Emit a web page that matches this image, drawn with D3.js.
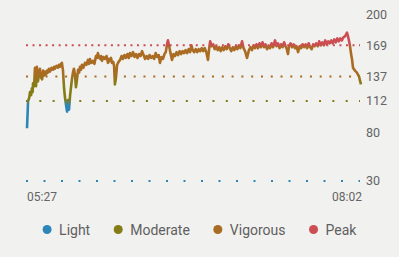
<!DOCTYPE html>
<html>
<head>
<meta charset="utf-8">
<script src="https://cdn.jsdelivr.net/npm/d3@7"></script>
<style>
  html, body { margin: 0; padding: 0; background: #f1f1ef; }
  svg { display: block; font-family: Roboto, "Noto Sans", sans-serif; }
</style>
</head>
<body>
<div id="chart"></div>
<script>
// minutes after 05:27
const minutes = [
  0, 0.5, 1.0, 1.4, 1.9, 2.3, 2.6, 2.8, 3.3, 3.7, 4.0, 4.2, 4.6, 5.1, 5.6, 6.0, 6.5, 7.0, 7.5, 7.9,
  8.4, 8.8, 9.3, 9.7, 10.2, 10.7, 11.4, 12.1, 12.6, 13.0, 13.7, 14.4, 14.9, 15.3, 15.8, 16.2, 16.7, 17.2, 17.6, 18.1,
  18.6, 19.0, 19.5, 20.0, 20.9, 21.4, 21.8, 22.3, 22.7, 23.2, 23.7, 24.2, 24.6, 25.1, 25.5, 26.2, 26.9, 27.6, 28.3, 28.8,
  29.2, 29.9, 30.6, 31.3, 32.0, 32.5, 32.9, 33.4, 33.9, 34.4, 34.8, 35.5, 36.2, 36.9, 37.6, 38.1, 38.5, 39.0, 39.4, 40.0,
  40.4, 40.8, 41.3, 41.8, 42.5, 43.2, 43.9, 44.5, 45.2, 45.9, 46.6, 47.3, 47.8, 48.5, 49.2, 49.9, 50.6, 51.3, 52.0, 52.7,
  53.4, 54.1, 54.8, 55.5, 56.2, 56.9, 57.6, 58.3, 59.0, 59.7, 60.4, 61.1, 61.7, 62.4, 63.1, 63.8, 64.4, 65.0, 65.4, 66.0,
  66.4, 67.3, 68.0, 68.7, 69.4, 70.1, 70.8, 71.5, 72.2, 72.9, 73.6, 74.3, 75.0, 75.7, 76.3, 76.9, 77.6, 78.3, 79.0, 79.7,
  80.4, 81.1, 81.8, 82.5, 83.2, 84.0, 84.5, 85.0, 85.7, 86.4, 87.1, 87.8, 88.5, 89.2, 89.9, 90.6, 91.3, 92.0, 92.7, 93.4,
  94.1, 94.8, 95.5, 96.2, 96.9, 97.6, 98.3, 99.0, 99.8, 100.5, 101.2, 102.1, 103.0, 103.7, 104.4, 105.1, 105.8, 106.5, 107.2, 107.9,
  108.6, 109.3, 110.0, 110.7, 111.4, 112.1, 112.8, 113.5, 114.2, 115.1, 115.8, 116.5, 117.2, 117.9, 118.6, 119.3, 120.0, 120.6, 121.1, 121.6,
  122.3, 123.0, 123.7, 124.4, 125.1, 125.8, 126.5, 127.2, 127.9, 128.6, 129.3, 130.0, 130.7, 131.4, 132.1, 132.8, 133.5, 134.2, 134.9, 135.6,
  136.3, 137.0, 137.7, 138.4, 139.1, 139.8, 140.5, 141.2, 141.9, 142.6, 143.3, 144.0, 144.7, 145.4, 146.1, 146.8, 147.5, 148.1, 148.5, 149.0,
  149.4, 149.9, 150.4, 150.8, 151.3, 152.2, 153.1, 154.1, 154.5, 155.0];
const bpm = [
  84, 112, 115, 121, 118, 125, 121, 130, 127, 146, 131, 127, 147, 132, 140, 145, 136, 134, 143, 138,
  142, 139, 143, 141, 145, 142, 146, 144, 147, 145, 148, 146, 149, 147, 150, 151, 143, 125, 116, 108,
  101, 113, 103, 118, 135, 142, 145, 138, 126, 134, 144, 141, 147, 144, 149, 146, 151, 149, 154, 150,
  155, 151, 153, 150, 158, 156, 161, 157, 155, 158, 153, 157, 155, 158, 151, 155, 153, 156, 151, 152,
  148, 129, 136, 149, 152, 154, 158, 155, 159, 156, 160, 156, 161, 158, 162, 157, 160, 156, 160, 158,
  163, 159, 155, 158, 155, 159, 156, 158, 155, 161, 157, 159, 151, 157, 155, 160, 162, 170, 174, 168,
  163, 154, 160, 158, 162, 159, 163, 160, 163, 161, 164, 161, 165, 162, 169, 164, 162, 165, 162, 165,
  163, 166, 163, 166, 162, 154, 165, 173, 168, 170, 165, 168, 164, 167, 163, 167, 164, 168, 165, 170,
  166, 163, 167, 164, 168, 165, 169, 166, 173, 166, 163, 156, 164, 167, 164, 169, 166, 170, 166, 171,
  167, 172, 167, 170, 165, 168, 166, 171, 167, 174, 168, 171, 166, 170, 167, 172, 168, 165, 160, 168,
  171, 167, 170, 166, 168, 162, 168, 166, 170, 167, 170, 166, 171, 167, 165, 170, 168, 171, 168, 173,
  169, 172, 169, 174, 170, 173, 171, 174, 171, 175, 172, 176, 173, 176, 174, 177, 178, 180, 182, 178,
  174, 168, 160, 155, 146, 143, 141, 137, 133, 129];

const yTicks = [200, 169, 137, 112, 80, 30];
const zoneValues = [169, 137, 112, 30];
const zoneColors = ["#cc4d52", "#a96c22", "#857c15", "#2c87b8"];
const zoneGaps = [6.53, 9.79, 13.32, 17.5];
const timeLabels = ["05:27", "08:02"];
const legendNames = ["Light", "Moderate", "Vigorous", "Peak"];
const legendColors = ["#2c87b8", "#857c15", "#a96c22", "#cc4d52"];

const width = 399, height = 257;
const svg = d3.select("#chart").append("svg").attr("width", width).attr("height", height);

const x = d3.scaleLinear().domain([0, 155]).range([27, 361]);
const y = d3.scaleLinear().domain([30, 200]).range([181, 15]);

// zone dotted lines
zoneValues.forEach((v, i) => {
  svg.append("line")
    .attr("x1", x(0) - 1).attr("x2", x(155) - 1)
    .attr("y1", y(v)).attr("y2", y(v))
    .attr("stroke", zoneColors[i])
    .attr("stroke-width", 2)
    .attr("stroke-dasharray", `2 ${zoneGaps[i] - 2}`);
});

// right axis labels
svg.append("g").selectAll("text")
  .data(yTicks).enter().append("text")
  .attr("x", 366).attr("y", d => y(d))
  .attr("dy", "0.35em")
  .attr("font-size", 12.5)
  .attr("fill", "#646464")
  .text(d => d);

// time labels
svg.append("text").attr("x", x(0)).attr("y", 201)
  .attr("font-size", 12).attr("fill", "#646464").text(timeLabels[0]);
svg.append("text").attr("x", x(155) + 1).attr("y", 201).attr("text-anchor", "end")
  .attr("font-size", 12).attr("fill", "#646464").text(timeLabels[1]);

// line, coloured by zone
const grad = svg.append("defs").append("linearGradient")
  .attr("id", "hr").attr("gradientUnits", "userSpaceOnUse")
  .attr("x1", 0).attr("x2", 0).attr("y1", y(200)).attr("y2", y(30));
[[200, "#cc4d52"], [170, "#cc4d52"], [166.5, "#a96c22"], [141, "#a96c22"], [128, "#857c15"],
 [114, "#857c15"], [107, "#2c87b8"], [30, "#2c87b8"]].forEach(s => {
  grad.append("stop")
    .attr("offset", (y(s[0]) - y(200)) / (y(30) - y(200)))
    .attr("stop-color", s[1]);
});

const pts = minutes.map((m, i) => [m, bpm[i]]);
svg.append("path")
  .datum(pts)
  .attr("fill", "none")
  .attr("stroke", "url(#hr)")
  .attr("stroke-width", 2.6)
  .attr("stroke-linejoin", "round")
  .attr("d", d3.line().x(d => x(d[0])).y(d => y(d[1])));

// legend
const legend = svg.append("g");
let lx = 0;
legendNames.forEach((name, i) => {
  const g = legend.append("g").attr("transform", `translate(${lx},0)`);
  g.append("circle").attr("cx", 4.5).attr("cy", 229.5).attr("r", 4.5).attr("fill", legendColors[i]);
  const t = g.append("text").attr("x", 16.5).attr("y", 234.5)
    .attr("font-size", 14).attr("fill", "#5f5f5f").text(name);
  lx += 16.5 + t.node().getComputedTextLength() + 23.5;
});
const legendW = lx - 23.5;
legend.attr("transform", `translate(${(width - legendW) / 2},0)`);
</script>
</body>
</html>
